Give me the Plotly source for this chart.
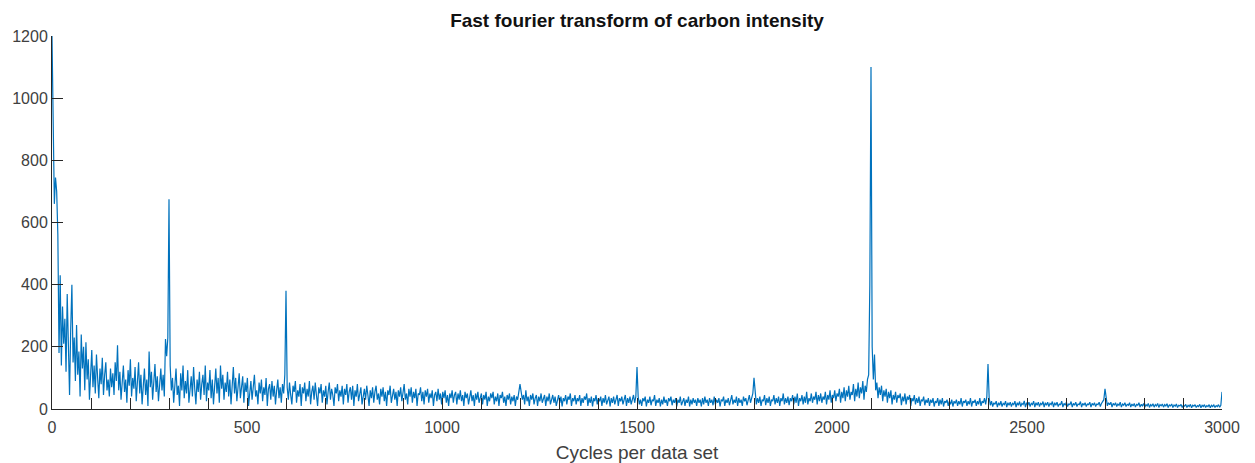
import plotly.graph_objects as go

freq_step = 3
amp_0000 = [1200, 950, 660, 745, 700, 560, 180, 430, 140, 330, 210, 290, 120, 370, 160, 45, 260, 400, 150, 230,
            90, 270, 110, 185, 40, 240, 130, 200, 60, 215, 95, 160, 30, 120, 190, 70, 140, 50, 175, 100,
            35, 130, 80, 165, 45, 110, 150, 60, 95, 40]
amp_0150 = [130, 70, 115, 45, 150, 90, 205, 60, 120, 30, 105, 140, 55, 95, 20, 125, 75, 160, 40, 100,
            65, 135, 25, 90, 150, 50, 110, 15, 80, 130, 45, 95, 10, 185, 70, 120, 30, 90, 145, 55,
            105, 25, 80, 130, 60, 110, 40, 225, 170, 230]
amp_0300 = [675, 140, 60, 100, 20, 85, 130, 45, 75, 10, 115, 60, 140, 35, 90, 50, 125, 20, 70, 105,
            40, 135, 65, 15, 95, 55, 120, 30, 80, 110, 45, 140, 25, 85, 60, 125, 35, 95, 15, 70,
            130, 50, 100, 20, 140, 65, 110, 30, 85, 55]
amp_0450 = [120, 40, 95, 15, 75, 135, 50, 100, 25, 80, 115, 35, 70, 105, 20, 85, 55, 100, 10, 65,
            90, 30, 75, 110, 40, 60, 15, 85, 50, 95, 25, 70, 45, 100, 10, 65, 80, 30, 90, 40,
            75, 15, 60, 95, 35, 70, 20, 80, 50, 110]
amp_0600 = [380, 70, 30, 85, 45, 15, 75, 55, 90, 20, 60, 40, 80, 10, 70, 50, 85, 25, 65, 40,
            90, 15, 55, 75, 30, 85, 45, 10, 70, 50, 80, 20, 60, 40, 75, 15, 55, 85, 30, 65,
            45, 10, 70, 50, 80, 25, 60, 40, 75, 15]
amp_0750 = [65, 45, 80, 20, 55, 70, 30, 75, 10, 60, 40, 80, 25, 55, 70, 15, 50, 65, 30, 75,
            45, 10, 60, 35, 70, 20, 55, 75, 30, 50, 15, 65, 40, 70, 25, 55, 10, 60, 45, 75,
            20, 50, 65, 30, 55, 10, 60, 40, 70, 25]
amp_0900 = [60, 80, 30, 50, 15, 65, 40, 70, 20, 55, 35, 65, 10, 50, 45, 70, 25, 55, 15, 60,
            40, 65, 20, 50, 35, 60, 10, 45, 55, 25, 65, 30, 50, 15, 55, 35, 60, 20, 45, 10,
            50, 35, 60, 20, 45, 55, 15, 50, 30, 60]
amp_1050 = [25, 45, 10, 55, 35, 50, 15, 40, 60, 25, 45, 10, 50, 30, 55, 20, 40, 50, 15, 45,
            30, 55, 10, 40, 25, 50, 35, 55, 15, 40, 25, 50, 10, 45, 35, 55, 20, 40, 10, 45,
            30, 50, 15, 40, 25, 45, 10, 40, 30, 50]
amp_1200 = [80, 55, 30, 45, 15, 60, 25, 40, 10, 45, 30, 50, 15, 35, 45, 10, 40, 25, 50, 20,
            35, 45, 10, 40, 25, 50, 15, 35, 45, 20, 40, 10, 35, 45, 20, 40, 8, 35, 25, 45,
            15, 40, 30, 50, 10, 35, 25, 45, 15, 35]
amp_1350 = [25, 45, 10, 35, 20, 40, 30, 50, 10, 35, 20, 40, 8, 35, 25, 45, 15, 35, 25, 40,
            10, 35, 20, 45, 15, 30, 40, 8, 35, 20, 40, 15, 30, 45, 10, 35, 25, 40, 15, 30,
            45, 10, 35, 20, 40, 15, 30, 45, 20, 40]
amp_1500 = [135, 40, 15, 30, 10, 35, 25, 40, 8, 30, 20, 40, 12, 30, 25, 45, 10, 30, 20, 35,
            8, 30, 15, 40, 20, 30, 10, 35, 25, 40, 12, 30, 20, 35, 8, 30, 20, 40, 12, 25,
            35, 10, 30, 20, 40, 8, 30, 15, 35, 20]
amp_1650 = [30, 10, 35, 20, 30, 8, 35, 15, 40, 20, 30, 10, 35, 20, 30, 12, 40, 15, 30, 20,
            35, 8, 30, 25, 40, 10, 30, 20, 35, 12, 30, 45, 15, 30, 20, 40, 10, 35, 20, 30,
            10, 40, 25, 35, 12, 30, 45, 20, 35, 50]
amp_1800 = [100, 40, 15, 35, 20, 40, 10, 30, 25, 45, 12, 35, 20, 40, 10, 30, 25, 45, 15, 35,
            20, 40, 10, 35, 25, 50, 15, 35, 20, 40, 12, 35, 25, 45, 15, 40, 20, 50, 10, 35,
            25, 45, 15, 40, 20, 55, 15, 35, 25, 50]
amp_1950 = [20, 40, 30, 55, 15, 45, 25, 50, 20, 40, 30, 55, 15, 45, 30, 60, 20, 45, 35, 60,
            25, 50, 40, 65, 20, 55, 35, 70, 25, 60, 40, 75, 30, 55, 45, 80, 25, 65, 40, 85,
            35, 70, 50, 90, 30, 75, 55, 95, 110, 400]
amp_2100 = [1100, 200, 95, 175, 60, 85, 35, 70, 45, 75, 25, 60, 40, 65, 20, 55, 35, 60, 15, 45,
            30, 55, 20, 45, 35, 50, 12, 40, 25, 50, 15, 40, 30, 45, 10, 35, 25, 45, 15, 35,
            20, 40, 10, 30, 25, 40, 12, 30, 20, 35]
amp_2250 = [10, 30, 20, 35, 8, 25, 20, 35, 10, 30, 15, 35, 8, 25, 20, 30, 10, 25, 15, 30,
            8, 25, 18, 30, 10, 25, 15, 35, 8, 25, 20, 30, 10, 25, 15, 35, 8, 25, 20, 30,
            10, 25, 15, 35, 10, 25, 20, 35, 15, 40]
amp_2400 = [145, 35, 12, 25, 8, 20, 15, 25, 6, 20, 12, 25, 8, 18, 14, 25, 6, 20, 12, 22,
            8, 18, 14, 25, 6, 20, 12, 24, 8, 18, 14, 26, 6, 20, 12, 22, 8, 18, 14, 25,
            6, 20, 12, 22, 8, 18, 14, 24, 6, 20]
amp_2550 = [12, 22, 8, 18, 14, 24, 6, 20, 12, 22, 8, 16, 14, 25, 6, 18, 12, 22, 8, 16,
            14, 24, 6, 18, 12, 22, 8, 16, 14, 24, 6, 18, 12, 20, 8, 16, 14, 22, 6, 18,
            12, 20, 8, 16, 14, 22, 8, 18, 25, 30]
amp_2700 = [65, 30, 10, 20, 14, 22, 6, 18, 12, 20, 8, 16, 12, 22, 6, 16, 12, 20, 8, 15,
            12, 20, 6, 16, 10, 18, 6, 15, 12, 20, 6, 15, 10, 18, 6, 14, 10, 18, 5, 14,
            10, 17, 6, 14, 10, 18, 5, 14, 10, 16]
amp_2850 = [6, 14, 10, 17, 5, 13, 10, 16, 5, 13, 9, 16, 5, 12, 10, 15, 5, 12, 9, 15,
            5, 12, 8, 15, 4, 12, 9, 14, 5, 11, 8, 15, 4, 12, 8, 14, 5, 11, 8, 14,
            4, 12, 8, 13, 5, 11, 8, 14, 6, 12]
amp_3000 = [55]

segments = [amp_0000, amp_0150, amp_0300, amp_0450, amp_0600, amp_0750, amp_0900,
            amp_1050, amp_1200, amp_1350, amp_1500, amp_1650, amp_1800, amp_1950,
            amp_2100, amp_2250, amp_2400, amp_2550, amp_2700, amp_2850, amp_3000]
amplitude = [v for s in segments for v in s]
cycles = [i * freq_step for i in range(len(amplitude))]

x_tick_vals = [0, 500, 1000, 1500, 2000, 2500, 3000]
y_tick_vals = [0, 200, 400, 600, 800, 1000, 1200]

axis_color = "#262626"
label_color = "#404040"
font_family = "Liberation Sans, Arial, sans-serif"

fig = go.Figure()
fig.add_trace(go.Scatter(x=cycles, y=amplitude, mode="lines",
                         line=dict(color="#0072BD", width=1.2), showlegend=False,
                         hoverinfo="x+y"))

fig.update_layout(
    width=1255, height=463,
    margin=dict(l=52, r=33, t=36, b=54),
    paper_bgcolor="white", plot_bgcolor="white",
    font=dict(family=font_family, color=label_color, size=16),
    title=dict(text="<b>Fast fourier transform of carbon intensity</b>",
               x=0.5, xref="paper", xanchor="center",
               y=1 - 20 / 463, yref="container", yanchor="middle",
               font=dict(size=19, color="#111111", family=font_family)),
)
fig.update_xaxes(
    range=[0, 3000], tickvals=x_tick_vals, ticks="inside", ticklen=11,
    tickcolor=axis_color, showline=True, linecolor=axis_color, linewidth=1,
    showgrid=False, zeroline=False, mirror=False, ticklabelstandoff=4,
    automargin=False,
    minor=dict(dtick=100, ticks="inside", ticklen=11, tickcolor=axis_color, showgrid=False),
    title=dict(text="Cycles per data set", standoff=12, font=dict(size=19, color=label_color)),
    tickfont=dict(size=16, color=label_color),
)
fig.update_yaxes(
    range=[0, 1200], tickvals=y_tick_vals, ticks="inside", ticklen=11,
    tickcolor=axis_color, showline=True, linecolor=axis_color, linewidth=1,
    showgrid=False, zeroline=False, mirror=False, automargin=False,
    tickfont=dict(size=16, color=label_color),
)

fig.write_html("out.html")
